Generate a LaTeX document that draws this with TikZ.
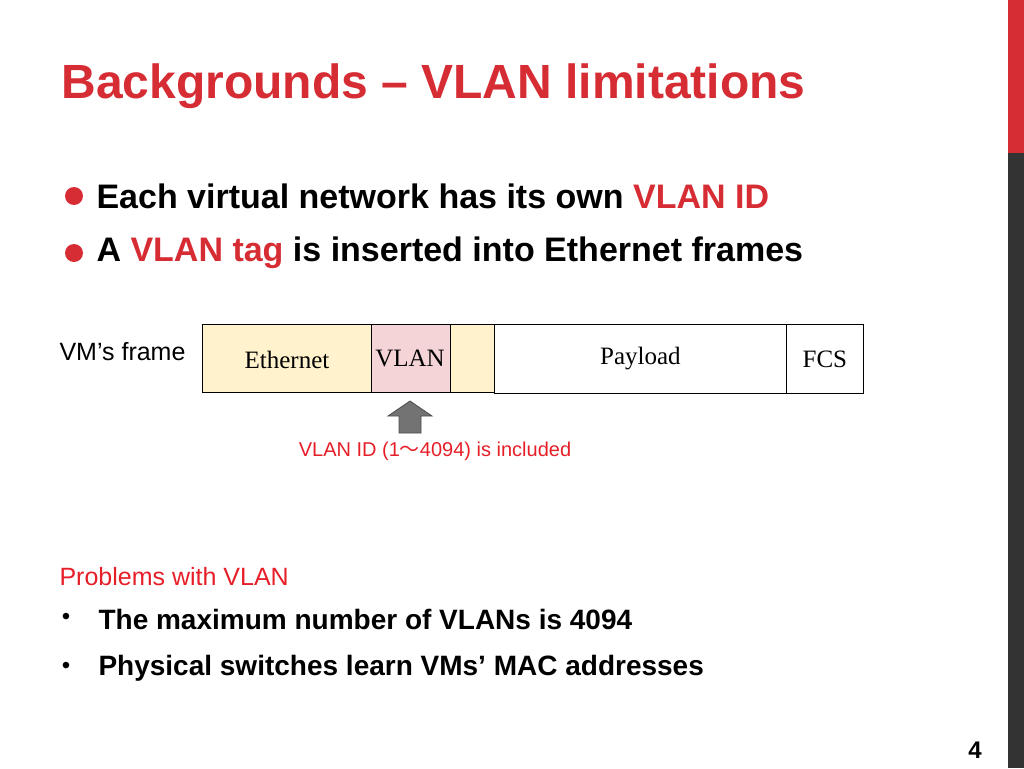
\documentclass[tikz,border=0pt]{standalone}
\usepackage{fontspec}
\setmainfont{Liberation Sans}
\newfontfamily\serifface{Liberation Serif}
\newfontfamily\cjk{Noto Sans CJK JP}
\usetikzlibrary{positioning}
\definecolor{slidered}{RGB}{214,44,52}
\definecolor{tagred}{RGB}{230,30,40}
\definecolor{ethyellow}{RGB}{255,242,204}
\definecolor{vlanpink}{RGB}{244,212,214}

\begin{document}
\begin{tikzpicture}[
    x=1pt, y=-1pt,
    field/.style={rectangle, draw, thick, minimum height=68pt, inner sep=0pt, anchor=north west, font=\serifface\fontsize{25}{28}\selectfont},
    bigtext/.style={anchor=west, font=\bfseries\fontsize{34}{38}\selectfont},
    smalltext/.style={anchor=west, font=\fontsize{25}{28}\selectfont},
    dot/.style={circle, fill=slidered, minimum size=18pt, inner sep=0pt}
]
\useasboundingbox (0,0) rectangle (1024,768);

% Side bar
\fill[slidered] (1008,0) rectangle (1024,153);
\fill[black!80] (1008,153) rectangle (1024,768);

% Title
\node (title) [anchor=west, text=slidered, font=\bfseries\fontsize{48}{52}\selectfont] at (58,86) {Backgrounds -- VLAN limitations};

% Bullets
\node (dot1) [dot] at (74,196) {};
\node (b1) [bigtext] at (93,196) {Each virtual network has its own \textcolor{slidered}{VLAN ID}};
\node (dot2) [dot] at (74,253) {};
\node (b2) [bigtext] at (93,253) {A \textcolor{slidered}{VLAN tag} is inserted into Ethernet frames};

% Frame
\node (vmframe) [smalltext] at (56,352) {VM{\char39}s frame};
\node (eth) [field, fill=ethyellow, minimum width=292pt] at (202,324) {};
\node (ethlbl) at (287,360) [font=\serifface\fontsize{25}{28}\selectfont] {Ethernet};
\node (vlan) [field, fill=vlanpink, minimum width=79pt] at (371,324) {};
\node (vlanlbl) at (410,358) [font=\serifface\fontsize{25}{28}\selectfont] {VLAN};
\node (payload) [field, fill=white, minimum width=292pt, minimum height=69pt] at (494,324) {Payload};
\node (fcs) [field, fill=white, minimum width=77pt, minimum height=69pt] at (786,324) {FCS};

% Arrow and note
\fill[black!55, draw=black!70, thick] (410,401) -- (432,416) -- (421,416) -- (421,433)
    -- (399,433) -- (399,416) -- (388,416) -- cycle;
\node (note) [text=tagred, font=\fontsize{20}{24}\selectfont] at (435,451) {VLAN ID (1{\cjk ～}4094) is included};

% Problems
\node (problems) [smalltext, text=tagred, font=\fontsize{25}{28}\selectfont] at (56,577) {Problems with VLAN};
\node (p1mark) [font=\fontsize{24}{28}\selectfont] at (66,619) {\textbullet};
\node (p1) [smalltext, font=\bfseries\fontsize{28}{32}\selectfont] at (95,619) {The maximum number of VLANs is 4094};
\node (p2mark) [font=\fontsize{24}{28}\selectfont] at (66,668) {\textbullet};
\node (p2) [smalltext, font=\bfseries\fontsize{28}{32}\selectfont] at (95,668) {Physical switches learn VMs{\char39} MAC addresses};

\node (pagenum) [font=\bfseries\fontsize{24}{26}\selectfont] at (975,750) {4};
\end{tikzpicture}
\end{document}
